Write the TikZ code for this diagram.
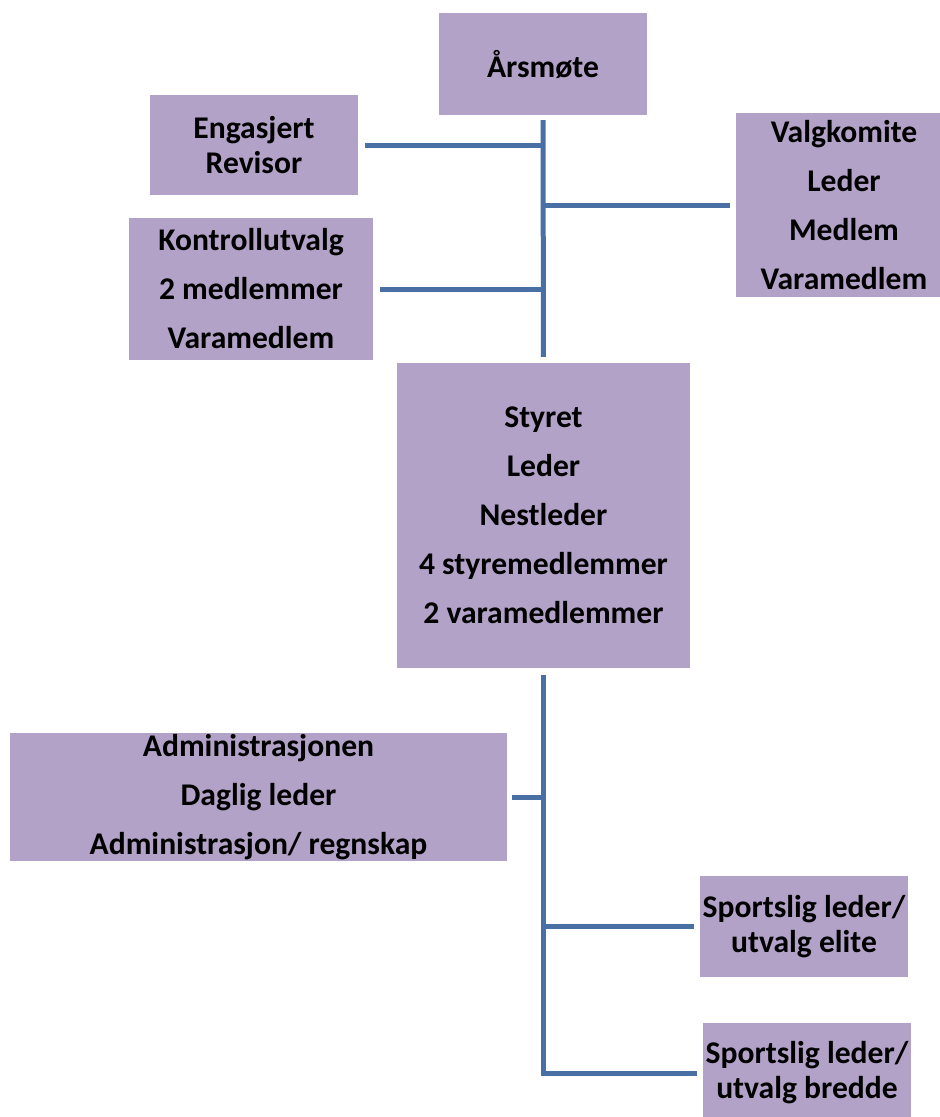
\documentclass[tikz,border=0pt]{standalone}
\usepackage{fontspec}
\setmainfont{Carlito}
\definecolor{boxfill}{HTML}{B3A2C7}
\definecolor{linkblue}{HTML}{4A6FA5}

\begin{document}
\begin{tikzpicture}[x=1pt, y=-1pt,
	orgbox/.style={fill=boxfill, inner sep=0pt, align=center, font=\fontsize{31.6}{49}\selectfont\bfseries},
	tightbox/.style={orgbox, font=\fontsize{31.6}{35}\selectfont\bfseries},
	link/.style={draw=linkblue, line width=5pt}]
			%%%%% START %%%%%
			\useasboundingbox (0,0) rectangle (940,1117);
			
			\node[orgbox, minimum width=208pt, minimum height=102pt] (arsmote) at (543,64) {Årsmøte};
			\node[tightbox, minimum width=208pt, minimum height=100pt] (revisor) at (254,145) {Engasjert\\Revisor};
			\node[orgbox, minimum width=244pt, minimum height=142pt] (kontroll) at (251,289) {Kontrollutvalg\\2 medlemmer\\Varamedlem};
			\node[orgbox, minimum width=216pt, minimum height=184pt] (valg) at (844,205) {Valgkomite\\Leder\\Medlem\\Varamedlem};
			
			\node[orgbox, minimum width=293pt, minimum height=305pt] (styret) at (543.5,515.5) {Styret\\Leder\\Nestleder\\4 styremedlemmer\\2 varamedlemmer};
			
			\node[orgbox, minimum width=497pt, minimum height=128pt] (admin) at (258.5,797) {Administrasjonen\\Daglig leder\\Administrasjon/ regnskap};
			\node[tightbox, minimum width=208pt, minimum height=101pt] (elite) at (804,926.5) {Sportslig leder/\\utvalg elite};
			\node[tightbox, minimum width=208pt, minimum height=100pt] (bredde) at (807,1073) {Sportslig leder/\\utvalg bredde};
			
			%%%%% LINES %%%%%
			\draw[link, shorten <=5pt, shorten >=6pt] (arsmote.south) -- (styret.north);
			\draw[link, shorten <=7pt] (revisor.east) -- (revisor.east -| arsmote.south);
			\draw[link, shorten <=7pt] (kontroll.east) -- (kontroll.east -| arsmote.south);
			\draw[link, shorten >=6pt] (valg.west -| arsmote.south) -- (valg.west);
			
			\draw[link, shorten <=7pt, shorten >=6pt] (styret.south) -- (styret.south |- bredde.west) -- (bredde.west);
			\draw[link, shorten <=5pt] (admin.east) -- (admin.east -| styret.south);
			\draw[link, shorten >=6pt] (elite.west -| styret.south) -- (elite.west);
			
			%%%%% END %%%%%
\end{tikzpicture}
\end{document}
